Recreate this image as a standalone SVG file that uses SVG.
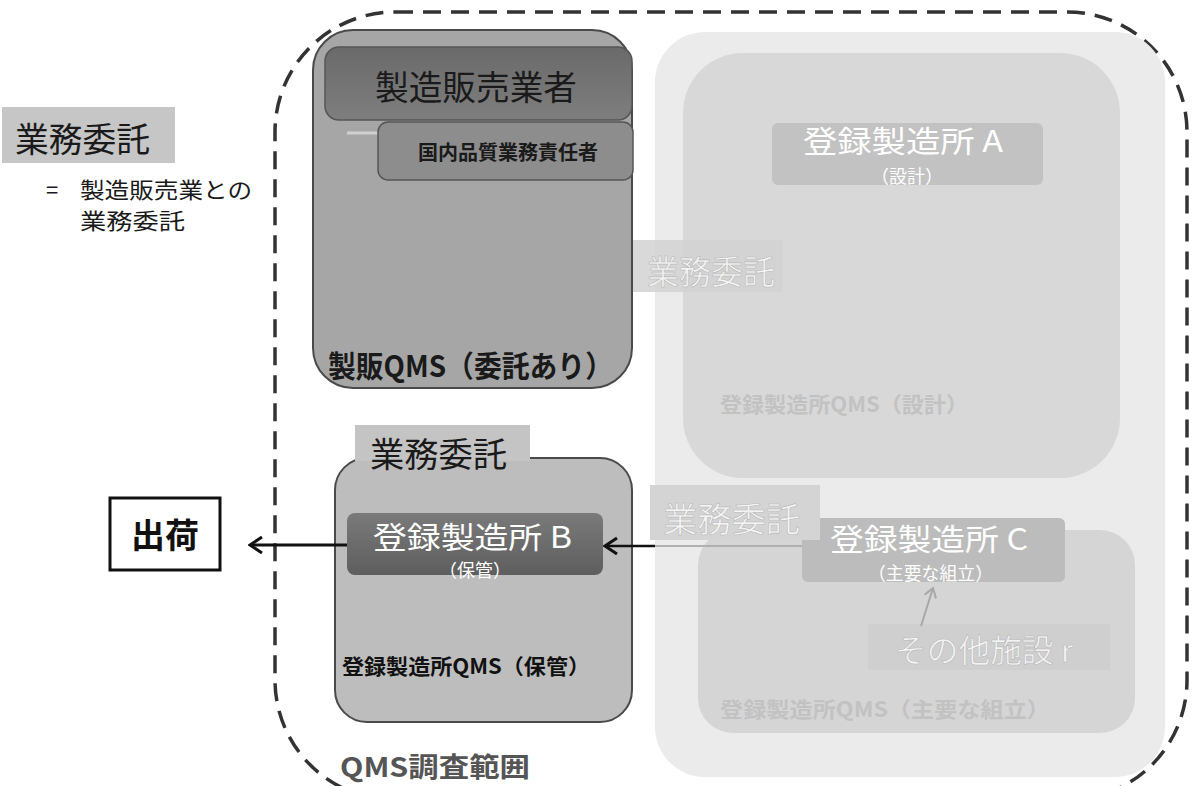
<svg xmlns="http://www.w3.org/2000/svg" width="1192" height="786" viewBox="0 0 1192 786">
<defs>
<style>
text{font-family:"Noto Sans CJK JP","Noto Sans",sans-serif;}
.b{font-weight:bold;}
.dark{fill:#1a1a1a;}
.wt{fill:#ffffff;}
.faint{fill:#f4f4f4;stroke:#b8b8b8;stroke-width:0.6;}
.fqms{fill:#c2c2c2;font-weight:bold;}
.box{stroke:#4a4a4a;stroke-width:2;}
</style>
<linearGradient id="gHead" x1="0" y1="0" x2="0" y2="1"><stop offset="0" stop-color="#6a6a6a"/><stop offset="1" stop-color="#7e7e7e"/></linearGradient>
<linearGradient id="gB" x1="0" y1="0" x2="0" y2="1"><stop offset="0" stop-color="#7a7a7a"/><stop offset="1" stop-color="#5e5e5e"/></linearGradient>
<marker id="chev" viewBox="0 0 16 20" refX="14" refY="10" markerWidth="16" markerHeight="20" markerUnits="userSpaceOnUse" orient="auto">
<path d="M2,2 L14,10 L2,18" fill="none" stroke="#111" stroke-width="3"/>
</marker>
<marker id="chevG" viewBox="0 0 12 14" refX="11" refY="7" markerWidth="12" markerHeight="14" markerUnits="userSpaceOnUse" orient="auto">
<path d="M2,1 L11,7 L2,13" fill="none" stroke="#a8a8a8" stroke-width="2"/>
</marker>
</defs>

<rect width="1192" height="786" fill="#ffffff"/>

<g id="scope">
<rect x="275" y="12" width="912" height="788" rx="120" fill="none" stroke="#333" stroke-width="3.5" stroke-dasharray="18 10"/>
<text x="340" y="777" font-size="27" class="b" fill="#555" textLength="190" lengthAdjust="spacingAndGlyphs">QMS調査範囲</text>
</g>

<g id="legend">
<rect x="2" y="107" width="173" height="56" fill="#c6c6c6"/>
<text x="15" y="152" font-size="34" class="dark" textLength="135" lengthAdjust="spacingAndGlyphs">業務委託</text>
<text x="46" y="198" font-size="22" class="dark">=</text>
<text x="80" y="198" font-size="22" class="dark" textLength="172" lengthAdjust="spacingAndGlyphs">製造販売業との</text>
<text x="80" y="229" font-size="22" class="dark" textLength="105" lengthAdjust="spacingAndGlyphs">業務委託</text>
</g>

<g id="region-right">
<rect x="655" y="32" width="510" height="745" rx="50" fill="#ebebeb"/>
</g>

<g id="site-A">
<rect x="683" y="53" width="437" height="425" rx="60" fill="#d8d8d8"/>
<rect x="772" y="123" width="271" height="62" rx="6" fill="#c2c2c2"/>
<text x="803" y="152" font-size="30" class="wt" textLength="200" lengthAdjust="spacingAndGlyphs">登録製造所 A</text>
<text x="907" y="183" font-size="18" class="wt" text-anchor="middle">（設計）</text>
<text x="720" y="412" font-size="21" class="fqms" textLength="248" lengthAdjust="spacingAndGlyphs">登録製造所QMS（設計）</text>
</g>

<g id="label-A">
<rect x="633" y="240" width="150" height="52" fill="#d2d2d2" opacity="0.85"/>
<text x="647" y="284" font-size="33" class="faint" textLength="128" lengthAdjust="spacingAndGlyphs">業務委託</text>
</g>

<g id="site-C">
<rect x="698" y="530" width="437" height="203" rx="35" fill="#d5d5d5"/>
<rect x="802" y="518" width="263" height="64" rx="6" fill="#bcbcbc"/>
<text x="830" y="550" font-size="30" class="wt" textLength="198" lengthAdjust="spacingAndGlyphs">登録製造所 C</text>
<text x="868" y="580" font-size="18" class="wt" textLength="125" lengthAdjust="spacingAndGlyphs">（主要な組立）</text>
<text x="720" y="717" font-size="21" class="fqms" textLength="330" lengthAdjust="spacingAndGlyphs">登録製造所QMS（主要な組立）</text>
</g>

<g id="other-r">
<rect x="868" y="624" width="242" height="46" fill="#cfcfcf"/>
<text x="895" y="662" font-size="32" class="faint" textLength="178" lengthAdjust="spacingAndGlyphs">その他施設 r</text>
</g>

<g id="label-C">
<rect x="650" y="485" width="170" height="55" fill="#d4d4d4"/>
<text x="663" y="532" font-size="34" class="faint" textLength="137" lengthAdjust="spacingAndGlyphs">業務委託</text>
</g>

<g id="maker">
<rect x="313" y="30" width="319" height="358" rx="40" fill="#a6a6a6" class="box"/>
<rect x="325" y="47" width="307" height="73" rx="14" fill="url(#gHead)" stroke="#555" stroke-width="1.5"/>
<text x="375" y="100" font-size="34" class="dark" textLength="202" lengthAdjust="spacingAndGlyphs">製造販売業者</text>
<line x1="347" y1="133" x2="378" y2="133" stroke="#d0d0d0" stroke-width="3"/>
<rect x="378" y="122" width="255" height="58" rx="10" fill="#8d8d8d" stroke="#555" stroke-width="1.5"/>
<text x="418" y="160" font-size="20" class="b dark" textLength="180" lengthAdjust="spacingAndGlyphs">国内品質業務責任者</text>
<text x="328" y="377" font-size="30" class="b dark" textLength="285" lengthAdjust="spacingAndGlyphs">製販QMS（委託あり）</text>
</g>

<g id="site-B">
<rect x="355" y="425" width="175" height="50" fill="#c4c4c4"/>
<rect x="335" y="458" width="297" height="264" rx="32" fill="#bdbdbd" class="box"/>
<rect x="355" y="457" width="175" height="4" fill="#c4c4c4"/>
<text x="370" y="467" font-size="34" class="dark" textLength="137" lengthAdjust="spacingAndGlyphs">業務委託</text>
<rect x="347" y="513" width="256" height="62" rx="8" fill="url(#gB)"/>
<text x="373" y="548" font-size="30" class="wt" textLength="199" lengthAdjust="spacingAndGlyphs">登録製造所 B</text>
<text x="475" y="577" font-size="18" class="wt" text-anchor="middle">（保管）</text>
<text x="342" y="674" font-size="21" class="b" fill="#111" textLength="248" lengthAdjust="spacingAndGlyphs">登録製造所QMS（保管）</text>
</g>

<g id="shipping">
<rect x="110" y="498" width="110" height="72" fill="#ffffff" stroke="#111" stroke-width="3"/>
<text x="165" y="548" font-size="34" class="b" fill="#111" text-anchor="middle">出荷</text>
</g>

<g id="connectors">
<line x1="347" y1="545" x2="250" y2="545" stroke="#111" stroke-width="3" marker-end="url(#chev)"/>
<line x1="802" y1="546" x2="655" y2="546" stroke="#b0b0b0" stroke-width="2"/>
<line x1="655" y1="546" x2="605" y2="546" stroke="#111" stroke-width="2.5" marker-end="url(#chev)"/>
<line x1="921" y1="626" x2="933" y2="588" stroke="#a8a8a8" stroke-width="2" marker-end="url(#chevG)"/>
</g>
</svg>
